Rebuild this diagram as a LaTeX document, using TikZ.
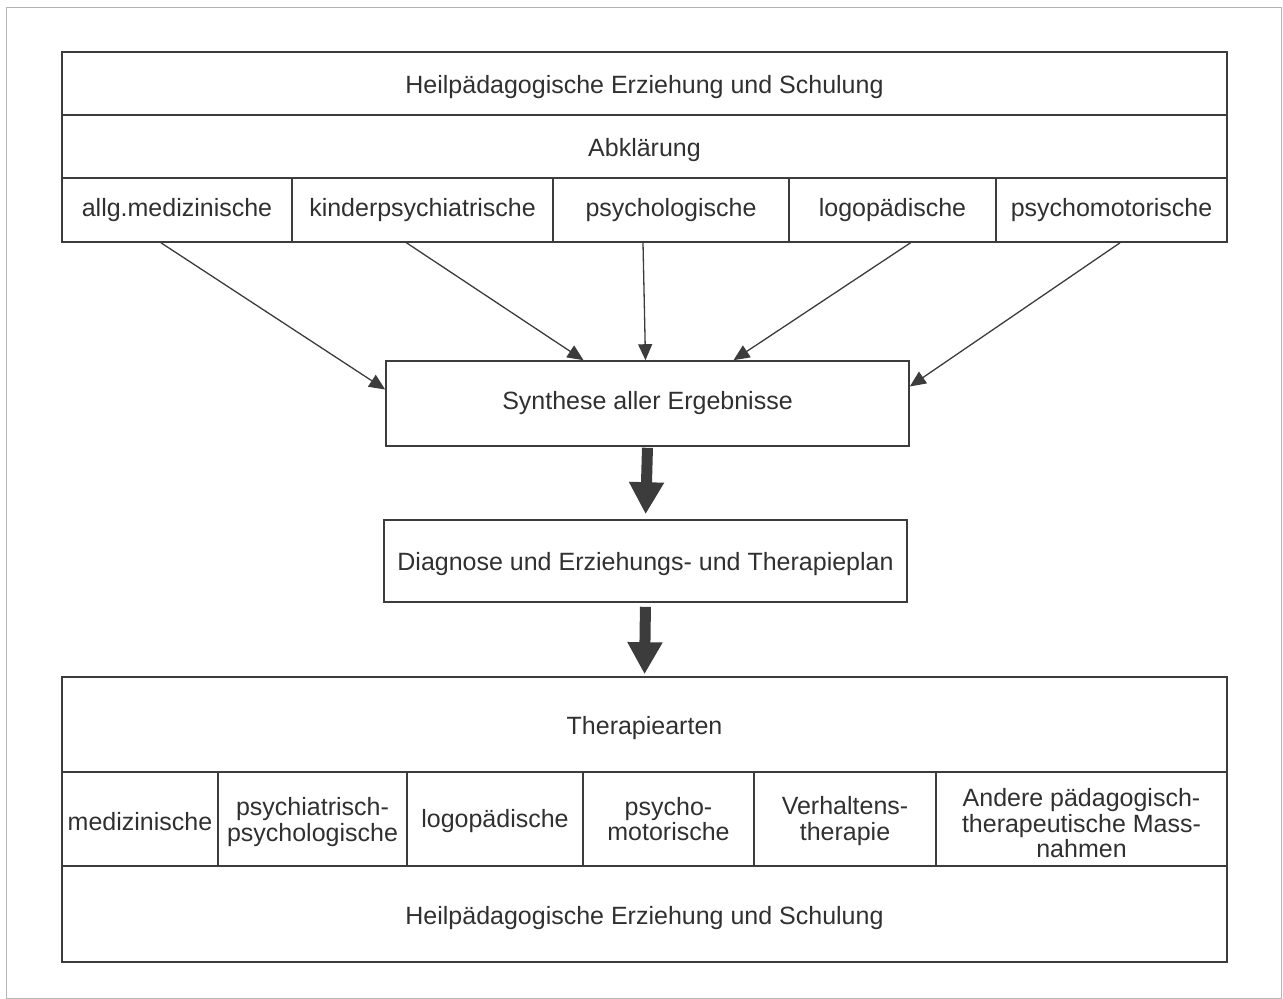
\documentclass[tikz,border=0pt]{standalone}
\usepackage{fontspec}
\setmainfont{Liberation Sans}
\usetikzlibrary{arrows.meta}
\definecolor{ink}{HTML}{3C3C3C}
\definecolor{txt}{HTML}{303030}
\definecolor{framec}{HTML}{B4B4B4}
\begin{document}
\begin{tikzpicture}[x=1pt,y=-1pt,
  cell/.style={draw=ink, line width=1.6pt, rectangle, inner sep=0pt, text=txt,
    font=\fontsize{25}{25.5}\selectfont, align=center, text depth=0pt},
  th/.style={text height=#1},
  thinarrow/.style={draw=ink, line width=1.3pt, -{Triangle[length=16pt,width=14pt]}},
  thickarrow/.style={draw=ink, line width=11pt, -{Triangle[length=32pt,width=33pt]}}]
\useasboundingbox (0,0) rectangle (1283,999);
\draw[framec, line width=1pt] (6,7) rectangle (1281,998);

% top block
\node[cell, th=20.7pt, minimum width=1165pt, minimum height=63pt] (top) at (644.5,83.5) {Heilpädagogische Erziehung und Schulung};
\node[cell, th=20.7pt, minimum width=1165pt, minimum height=63pt] (abk) at (644.5,146.5) {Abklärung};
\node[cell, th=12.7pt, minimum width=230pt, minimum height=64pt] (a1) at (177,210) {allg.medizinische};
\node[cell, th=12.7pt, minimum width=261pt, minimum height=64pt] (a2) at (422.5,210) {kinderpsychiatrische};
\node[cell, th=12.7pt, minimum width=236pt, minimum height=64pt] (a3) at (671,210) {psychologische};
\node[cell, th=12.7pt, minimum width=207pt, minimum height=64pt] (a4) at (892.5,210) {logopädische};
\node[cell, th=12.7pt, minimum width=231pt, minimum height=64pt] (a5) at (1111.5,210) {psychomotorische};

% middle
\node[cell, th=12.7pt, minimum width=523pt, minimum height=85pt] (syn) at (647.5,403.5) {Synthese aller Ergebnisse};
\node[cell, th=18.7pt, minimum width=523pt, minimum height=82pt] (diag) at (645.5,561) {Diagnose und Erziehungs- und Therapieplan};

% bottom block
\node[cell, th=20.7pt, minimum width=1165pt, minimum height=95pt] (ther) at (644.5,724.5) {Therapiearten};
\node[cell, th=22pt, minimum width=156pt, minimum height=94pt] (t1) at (140,819) {medizinische};
\node[cell, th=44.2pt, minimum width=189pt, minimum height=94pt] (t2) at (312.5,819) {psychiatrisch-\\psychologische};
\node[cell, th=16.7pt, minimum width=176pt, minimum height=94pt] (t3) at (495,819) {logopädische};
\node[cell, th=43.5pt, minimum width=171pt, minimum height=94pt] (t4) at (668.5,819) {psycho-\\motorische};
\node[cell, th=42.2pt, minimum width=182pt, minimum height=94pt] (t5) at (845,819) {Verhaltens-\\therapie};
\node[cell, th=77pt, minimum width=291pt, minimum height=94pt] (t6) at (1081.5,819) {Andere pädagogisch-\\therapeutische Mass-\\nahmen};
\node[cell, th=20.7pt, minimum width=1165pt, minimum height=96pt] (bot) at (644.5,914) {Heilpädagogische Erziehung und Schulung};

% thin arrows
\draw[thinarrow] ([xshift=-16pt]a1.south) -- ([yshift=14pt]syn.west);
\draw[thinarrow] ([xshift=-16pt]a2.south) -- ([xshift=-64pt]syn.north);
\draw[thinarrow] ([xshift=-28pt]a3.south) -- ([xshift=-2pt]syn.north);
\draw[thinarrow] ([xshift=18pt]a4.south) -- ([xshift=86pt]syn.north);
\draw[thinarrow] ([xshift=8.5pt]a5.south) -- ([yshift=17pt]syn.east);

% thick arrows
\draw[thickarrow, shorten >=5pt, shorten <=1pt] (syn.south) -- (diag.north);
\draw[thickarrow, shorten >=2pt, shorten <=4pt] (diag.south) -- (ther.north);
\end{tikzpicture}
\end{document}
